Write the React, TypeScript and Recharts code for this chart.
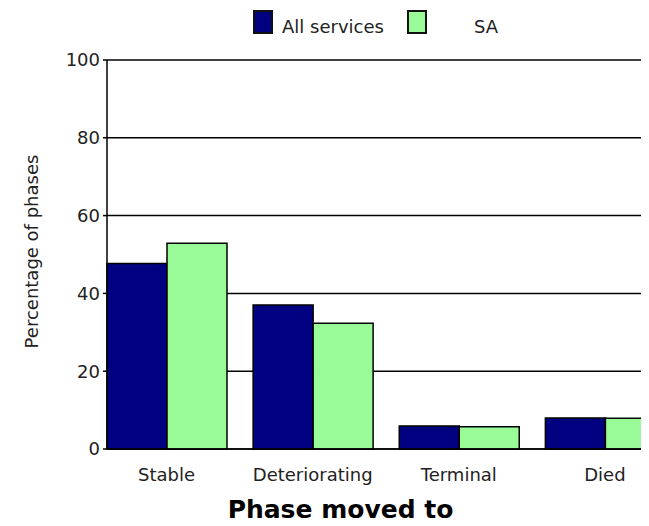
import { BarChart, Bar, XAxis, YAxis, CartesianGrid, Legend, Label } from 'recharts'

const categories = ['Stable', 'Deteriorating', 'Terminal', 'Died']
const allServices = [47.7, 37.0, 5.9, 8.0]
const sa = [52.9, 32.3, 5.7, 7.9]
const yTicks = [0, 20, 40, 60, 80, 100]

const seriesNames = ['All services', 'SA']
const seriesColors = ['#000080', '#98fb98']

const data = categories.map((name, i) => ({ name, all: allServices[i], sa: sa[i] }))

const FONT = '"DejaVu Sans", sans-serif'
const tickStyle = { fontFamily: FONT, fontSize: 18, fill: '#222' }

function LegendBox() {
  const swatch = (color: string) => (
    <div
      style={{
        width: 20,
        height: 24,
        boxSizing: 'border-box',
        border: '2px solid #111',
        background: color,
      }}
    />
  )
  const text = (label: string) => (
    <span style={{ fontFamily: FONT, fontSize: 18, lineHeight: '24px', color: '#222', marginTop: 5 }}>{label}</span>
  )
  return (
    <div style={{ display: 'flex', alignItems: 'flex-start', paddingLeft: 245, paddingTop: 2 }}>
      {swatch(seriesColors[0])}
      <div style={{ marginLeft: 9, display: 'flex' }}>{text(seriesNames[0])}</div>
      <div style={{ marginLeft: 23 }}>{swatch(seriesColors[1])}</div>
      <div style={{ marginLeft: 47, display: 'flex' }}>{text(seriesNames[1])}</div>
    </div>
  )
}

export default function App() {
  return (
    <div style={{ width: 641, height: 518, overflow: 'hidden', marginBottom: -8 }}>
      <BarChart
        width={670}
        height={518}
        data={data}
        margin={{ top: 0, right: 0, bottom: 0, left: 0 }}
        barCategoryGap={13.5}
        barGap={0}
      >
        <Legend
          verticalAlign="top"
          content={() => <LegendBox />}
          wrapperStyle={{ top: 0, left: 0, width: 670, height: 52 }}
        />
        <CartesianGrid vertical={false} stroke="#000" strokeWidth={1.5} />
        <XAxis
          dataKey="name"
          padding={{ left: -13.5, right: 0 }}
          height={77}
          tickLine={false}
          tickSize={0}
          tickMargin={19}
          axisLine={{ stroke: '#000', strokeWidth: 1.5 }}
          tick={tickStyle}
          interval={0}
        >
          <Label
            value="Phase moved to"
            position="insideBottom"
            offset={8}
            dx={-52}
            style={{ fontFamily: FONT, fontSize: 25, fontWeight: 'bold', fill: '#000' }}
          />
        </XAxis>
        <YAxis
          domain={[0, 100]}
          ticks={yTicks}
          width={99}
          tickSize={4}
          tickMargin={3}
          tickLine={{ stroke: '#000', strokeWidth: 1.5 }}
          axisLine={{ stroke: '#000', strokeWidth: 1.5 }}
          tick={tickStyle}
        >
          <Label
            value="Percentage of phases"
            angle={-90}
            position="insideLeft"
            offset={24}
            dy={-3}
            style={{ fontFamily: FONT, fontSize: 18, fill: '#222', textAnchor: 'middle' }}
          />
        </YAxis>
        <Bar dataKey="all" name={seriesNames[0]} fill={seriesColors[0]} stroke="#000" strokeWidth={1.5} isAnimationActive={false} />
        <Bar dataKey="sa" name={seriesNames[1]} fill={seriesColors[1]} stroke="#000" strokeWidth={1.5} isAnimationActive={false} />
      </BarChart>
    </div>
  )
}
